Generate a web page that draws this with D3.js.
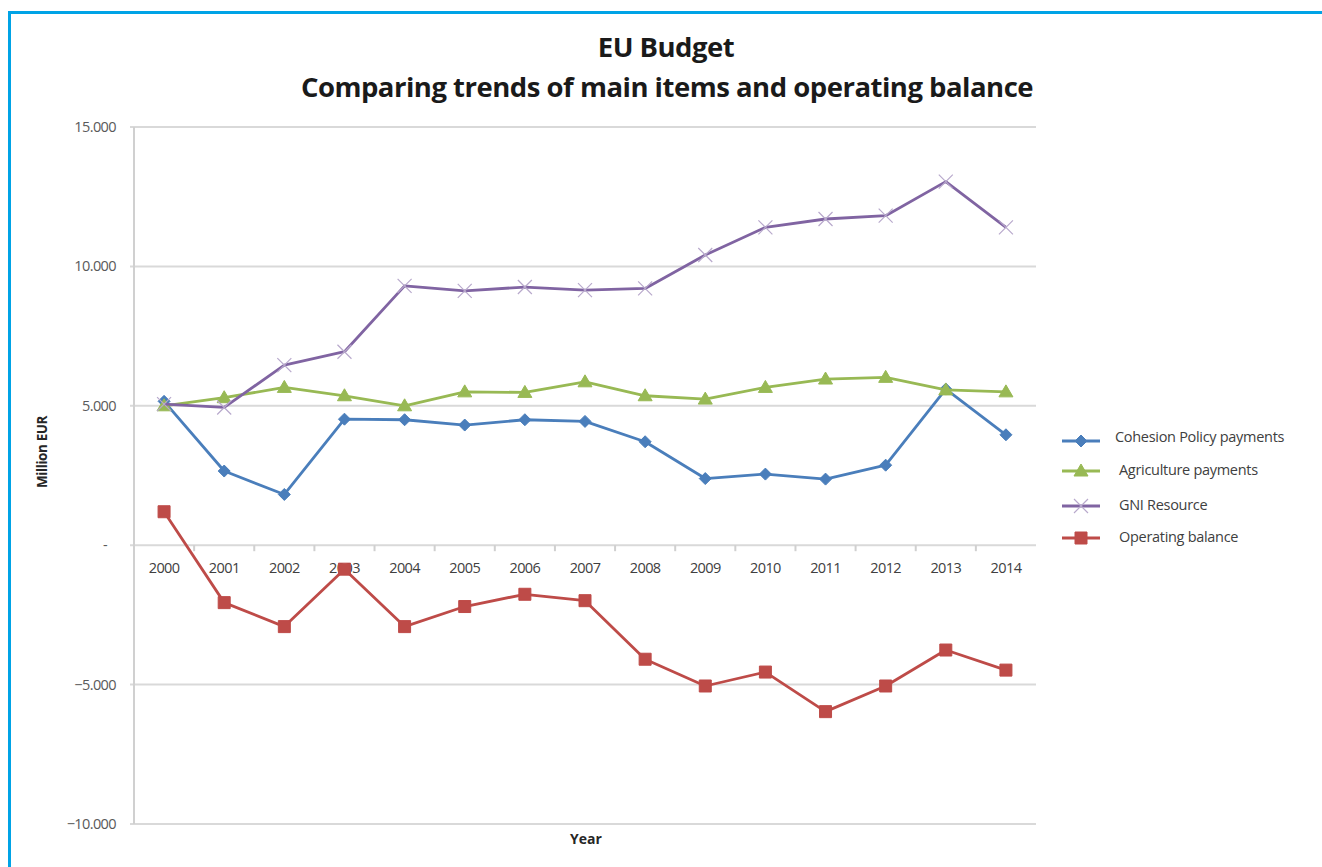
<!DOCTYPE html>
<html>
<head>
<meta charset="utf-8">
<script src="https://cdn.jsdelivr.net/npm/d3@7/dist/d3.min.js"></script>
<style>
  body { margin: 0; background: #fff; }
  svg { display: block; font-family: "Open Sans", "Liberation Sans", sans-serif; }
</style>
</head>
<body>
<svg id="chart" width="1322" height="867"></svg>
<script>
// values (million EUR)
var years = ["2000","2001","2002","2003","2004","2005","2006","2007","2008","2009","2010","2011","2012","2013","2014"];
var cohesion = [5160, 2660, 1820, 4520, 4500, 4310, 4500, 4440, 3710, 2390, 2550, 2370, 2870, 5600, 3960];
var agriculture = [5000, 5290, 5660, 5360, 5000, 5500, 5480, 5860, 5360, 5240, 5660, 5960, 6020, 5570, 5500];
var gni = [5060, 4940, 6460, 6940, 9300, 9120, 9260, 9150, 9210, 10410, 11400, 11700, 11820, 13040, 11400];
var operating = [1200, -2060, -2920, -860, -2920, -2200, -1760, -1990, -4090, -5050, -4550, -5970, -5050, -3760, -4480];
var yTicks = [15000, 10000, 5000, 0, -5000, -10000];

var seriesNames = ["Cohesion Policy payments", "Agriculture payments", "GNI Resource", "Operating balance"];
var seriesValues = [cohesion, agriculture, gni, operating];
var seriesColors = ["#4a7ebb", "#98b954", "#8064a2", "#be4b48"];
var seriesMarkers = ["diamond", "triangle", "cross", "square"];

var svg = d3.select("#chart");

// frame of the original image
svg.append("line").attr("x1", 9).attr("x2", 1322).attr("y1", 12.5).attr("y2", 12.5)
  .attr("stroke", "#00a3e6").attr("stroke-width", 3);
svg.append("line").attr("x1", 9.5).attr("x2", 9.5).attr("y1", 11).attr("y2", 867)
  .attr("stroke", "#00a3e6").attr("stroke-width", 3);

var x = d3.scaleBand().domain(years).range([134, 1036]);
var y = d3.scaleLinear().domain([-10000, 15000]).range([824, 127]);

// gridlines
svg.append("g").selectAll("line")
  .data(yTicks)
  .enter().append("line")
  .attr("x1", 130).attr("x2", 1036)
  .attr("y1", d => y(d)).attr("y2", d => y(d))
  .attr("stroke", "#d9d9d9").attr("stroke-width", 2);

// y axis line
svg.append("line").attr("x1", 134).attr("x2", 134)
  .attr("y1", y(15000)).attr("y2", y(-10000))
  .attr("stroke", "#d0d0d0").attr("stroke-width", 2);

var fmt = d => d === 0 ? "-" : d3.format(",")(d).replace(/,/g, ".");
svg.append("g").selectAll("text")
  .data(yTicks)
  .enter().append("text")
  .attr("x", d => d === 0 ? 107 : 116)
  .attr("y", d => y(d) + 5)
  .attr("text-anchor", "end")
  .attr("fill", "#595959")
  .style("font-size", "14.5px")
  .style("letter-spacing", "-0.6px")
  .text(fmt);

// category axis at zero
var xAxis = d3.axisBottom(x).tickSize(0).tickPadding(0);
var gx = svg.append("g").attr("transform", "translate(0," + y(0) + ")").call(xAxis);
gx.select(".domain").remove();
gx.selectAll("text")
  .attr("y", 28)
  .attr("dy", 0)
  .attr("fill", "#404040")
  .style("font-size", "14.5px")
  .style("letter-spacing", "-0.6px")
  .style("font-family", "'Open Sans', sans-serif");
svg.append("g").selectAll("line")
  .data(years.slice(1))
  .enter().append("line")
  .attr("x1", d => x(d)).attr("x2", d => x(d))
  .attr("y1", y(0)).attr("y2", y(0) + 6)
  .attr("stroke", "#d0d0d0").attr("stroke-width", 2);

function markerPath(type) {
  if (type === "diamond") return "M0,-6L6,0L0,6L-6,0Z";
  if (type === "triangle") return "M0,-7L7,5L-7,5Z";
  if (type === "square") return "M-6,-6H6V6H-6Z";
  return "M-7,-7L7,7M-7,7L7,-7";
}

function drawMarker(g, type, color) {
  g.append("path")
    .attr("d", markerPath(type))
    .attr("fill", type === "cross" ? "none" : color)
    .attr("stroke", type === "cross" ? "#b8a9cc" : color)
    .attr("stroke-width", type === "cross" ? 1.2 : 1);
}

var line = d3.line()
  .x((d, i) => x(years[i]) + x.bandwidth() / 2)
  .y(d => y(d));

seriesValues.forEach(function (vals, k) {
  var g = svg.append("g").attr("class", "series");
  g.append("path")
    .datum(vals)
    .attr("d", line)
    .attr("fill", "none")
    .attr("stroke", seriesColors[k])
    .attr("stroke-width", 2.8)
    .attr("stroke-linejoin", "round");
  g.selectAll("g.pt")
    .data(vals)
    .enter().append("g")
    .attr("class", "pt")
    .attr("transform", (d, i) => "translate(" + (x(years[i]) + x.bandwidth() / 2) + "," + y(d) + ")")
    .each(function () { drawMarker(d3.select(this), seriesMarkers[k], seriesColors[k]); });
});

// legend
var legendY = [441, 471, 506, 538];
var legend = svg.append("g").selectAll("g")
  .data(seriesNames)
  .enter().append("g")
  .attr("transform", (d, i) => "translate(1062," + legendY[i] + ")");
legend.append("line").attr("x1", 0).attr("x2", 38).attr("y1", 0).attr("y2", 0)
  .attr("stroke", (d, i) => seriesColors[i]).attr("stroke-width", 2.8);
legend.each(function (d, i) {
  var m = d3.select(this).append("g").attr("transform", "translate(19,0)");
  drawMarker(m, seriesMarkers[i], seriesColors[i]);
});
legend.append("text")
  .attr("x", (d, i) => i === 0 ? 53 : 57)
  .attr("y", (d, i) => i === 0 ? 1 : 4)
  .attr("fill", "#404040")
  .style("font-size", "14.5px")
  .style("letter-spacing", "-0.3px")
  .text(d => d);

// titles
svg.append("text").attr("x", 666).attr("y", 57).attr("text-anchor", "middle")
  .style("font-size", "27.5px").style("font-weight", "bold").attr("fill", "#1a1a1a")
  .style("letter-spacing", "-0.5px")
  .text("EU Budget");
svg.append("text").attr("x", 667).attr("y", 97).attr("text-anchor", "middle")
  .style("font-size", "27.5px").style("font-weight", "bold").attr("fill", "#1a1a1a")
  .style("letter-spacing", "-0.5px")
  .text("Comparing trends of main items and operating balance");

svg.append("text").attr("transform", "translate(47,452) rotate(-90)")
  .attr("text-anchor", "middle")
  .style("font-size", "13.5px").style("font-weight", "bold").attr("fill", "#262626")
  .style("letter-spacing", "-0.4px")
  .text("Million EUR");
svg.append("text").attr("x", 586).attr("y", 844).attr("text-anchor", "middle")
  .style("font-size", "14px").style("font-weight", "bold").attr("fill", "#262626")
  .text("Year");
</script>
</body>
</html>
